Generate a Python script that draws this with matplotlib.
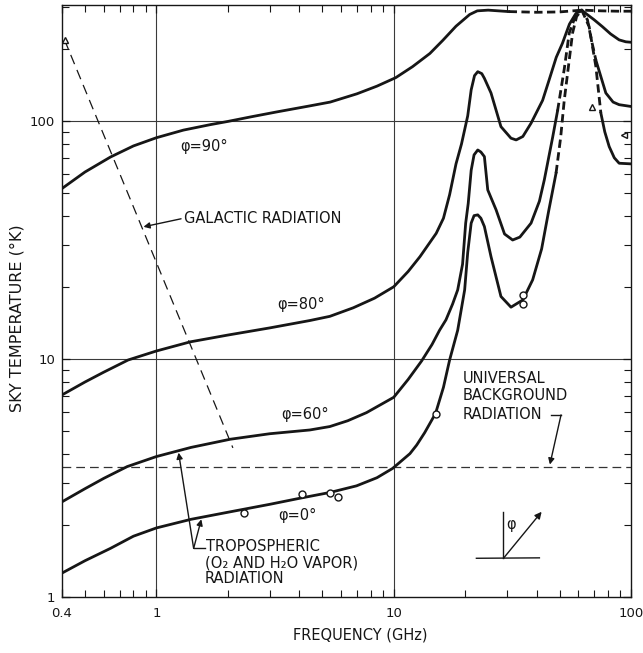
import matplotlib
matplotlib.use("Agg")
import matplotlib.pyplot as plt
from matplotlib.ticker import FixedLocator, NullFormatter

# ---- sky temperature curves (frequency in GHz, temperature in K) ----
freq_90 = [0.4, 0.5, 0.64, 0.8, 1.0, 1.3, 1.69, 2.0, 2.5, 3.2, 4.4, 5.4, 7.0, 8.5, 10.2,
           12.0, 14.2, 16.1, 18.3, 20.9, 22.5, 25.0, 30.5, 40.0, 50.0, 62.0, 75.0, 88.0, 100.0]
temp_90 = [52, 61, 70.5, 78.5, 85, 91.5, 96.5, 99.5, 104, 109, 115.5, 120, 130, 140, 152,
           169, 192, 218, 250, 280, 290, 292, 288, 286, 287, 292, 290, 289, 289]

freq_80 = [0.4, 0.5, 0.6, 0.76, 1.0, 1.39, 2.0, 3.0, 4.43, 5.38, 6.75, 8.3, 10.0, 11.5,
           12.9, 15.1, 16.2, 17.2, 18.3, 19.3, 20.5, 21.2, 21.9, 22.6, 23.5, 24.1, 25.7,
           28.3, 31.2, 32.8, 35.0, 37.9, 42.4, 45.2, 48.4, 51.4, 55.0, 58.6, 62.0, 64.4,
           69.9, 75.7, 82.0, 89.1, 95.0, 100.0]
temp_80 = [7.06, 8.0, 8.8, 9.9, 10.8, 11.8, 12.6, 13.5, 14.5, 15.1, 16.4, 18.0, 20.1, 23.3,
           26.9, 33.7, 39, 49, 66, 80, 105, 135, 155, 161, 158, 151, 131,
           94.6, 84.6, 83.2, 86, 97.8, 122, 149, 185, 212, 255, 283, 292, 283,
           266, 249, 232, 219, 215, 214]

freq_60 = [0.4, 0.5, 0.6, 0.753, 1.0, 1.4, 2.05, 3.0, 4.43, 5.38, 6.4, 7.68, 10.0, 11.5, 13.1,
           14.5, 15.6, 16.6, 17.7, 18.6, 19.5, 20.1, 20.6, 21.2, 21.8, 22.6, 23.3, 24.1,
           24.9, 27.0, 29.3, 31.7, 34.0, 37.9, 41.1, 43.1, 46.7, 49.0, 52.3, 54.9, 58.6,
           62.0, 65.5, 68.0, 71.1, 78.3, 84.0, 89.1, 100.0]
temp_60 = [2.51, 2.85, 3.15, 3.53, 3.89, 4.25, 4.6, 4.85, 5.03, 5.2, 5.5, 5.95, 6.9, 8.2, 9.8,
           11.5, 13.2, 14.6, 17, 19.5, 25, 37.2, 45, 62, 72, 75.5, 74, 70.8,
           51.3, 42.3, 33.5, 31.6, 32.5, 37.2, 46, 56.5, 85, 110, 165, 234, 280,
           292, 266, 220, 180, 131, 120, 117, 115]

freq_0 = [0.4, 0.5, 0.64, 0.8, 1.0, 1.4, 2.05, 3.0, 4.03, 5.4, 6.97, 8.5, 9.9, 11.7,
          12.5, 13.5, 15.0, 16.2, 17.2, 18.6, 19.9, 20.5, 21.2, 21.8, 22.6, 23.3, 24.1,
          25.7, 28.3, 31.2, 35.0, 38.5, 42.0, 45.0, 48.3, 50.5, 52.3, 54.5, 56.7, 59.0,
          62.0, 66.6, 71.1, 74.6, 77.5, 80.9, 85.0, 89.1, 100.0]
temp_0 = [1.26, 1.42, 1.6, 1.8, 1.95, 2.12, 2.28, 2.45, 2.6, 2.75, 2.93, 3.17, 3.47, 4.0,
          4.35, 4.9, 5.9, 7.6, 9.9, 13.2, 19.5, 28, 37.2, 40, 40.3, 39, 36,
          26.9, 18.3, 16.5, 17.7, 21.5, 29, 42, 60.3, 85, 122, 170, 234, 275,
          292, 249, 169, 108, 90, 78, 70, 66.4, 66]

# frequency span over which each curve is drawn dashed (extrapolated part)
dashed_span = {"90": (30.5, 100.0), "80": None, "60": (49.0, 71.1), "0": (48.3, 74.6)}

# galactic radiation (straight line in log-log) and universal background level
galactic_freq = [0.41, 2.1]
galactic_temp = [219, 4.23]
background_temp = 3.5

# measured points
circle_freq = [2.33, 4.09, 5.4, 5.8, 15.0, 35.0, 35.0]
circle_temp = [2.26, 2.72, 2.73, 2.64, 5.86, 17.0, 18.6]
triangle_freq = [0.41, 68.6]
triangle_temp = [219, 114]
side_tri_freq = [93.4]
side_tri_temp = [87]

x_tick_vals = [0.4, 1, 10, 100]
x_tick_labels = ["0.4", "1", "10", "100"]
y_tick_vals = [1, 10, 100]
y_tick_labels = ["1", "10", "100"]

INK = "#161616"
FONT = "DejaVu Sans"

fig = plt.figure(figsize=(6.43, 6.53), dpi=100)
ax = fig.add_axes([0.0964, 0.0858, 0.885, 0.9066])
ax.set_xscale("log")
ax.set_yscale("log")
ax.set_xlim(0.4, 100)
ax.set_ylim(1, 307)

# decade grid
for gx in (1, 10):
    ax.axvline(gx, color="#3a3a3a", lw=0.8, zorder=1)
for gy in (10, 100):
    ax.axhline(gy, color="#3a3a3a", lw=0.8, zorder=1)


def draw_curve(fx, ty, span):
    if span is None:
        ax.plot(fx, ty, color=INK, lw=2.0, solid_capstyle="round",
                solid_joinstyle="round", zorder=3)
        return
    lo, hi = span
    left = [(f, t) for f, t in zip(fx, ty) if f <= lo]
    mid = [(f, t) for f, t in zip(fx, ty) if lo <= f <= hi]
    right = [(f, t) for f, t in zip(fx, ty) if f >= hi]
    for seg, ls in ((left, "-"), (mid, (0, (3.0, 1.6))), (right, "-")):
        if len(seg) > 1:
            ax.plot([p[0] for p in seg], [p[1] for p in seg], color=INK, lw=2.0,
                    linestyle=ls, solid_joinstyle="round", zorder=3)


draw_curve(freq_90, temp_90, dashed_span["90"])
draw_curve(freq_80, temp_80, dashed_span["80"])
draw_curve(freq_60, temp_60, dashed_span["60"])
draw_curve(freq_0, temp_0, dashed_span["0"])

ax.plot(galactic_freq, galactic_temp, color=INK, lw=0.9, linestyle=(0, (8, 5)), zorder=2)
ax.axhline(background_temp, color="#333333", lw=0.9, linestyle=(0, (7, 4)), zorder=2)

ax.plot(circle_freq, circle_temp, linestyle="none", marker="o", ms=5,
        mfc="white", mec=INK, mew=1.0, zorder=4)
ax.plot(triangle_freq, triangle_temp, linestyle="none", marker="^", ms=5,
        mfc="white", mec=INK, mew=1.0, zorder=4)
ax.plot(side_tri_freq, side_tri_temp, linestyle="none", marker="<", ms=5,
        mfc="white", mec=INK, mew=1.0, zorder=4)

# curve labels
txt = dict(color=INK, fontsize=10.5, family=FONT, zorder=5)
ax.text(1.58, 77.8, "\u03c6=90\u00b0", ha="center", va="center", **txt)
ax.text(4.07, 16.9, "\u03c6=80\u00b0", ha="center", va="center", **txt)
ax.text(4.23, 5.82, "\u03c6=60\u00b0", ha="center", va="center", **txt)
ax.text(3.91, 2.19, "\u03c6=0\u00b0", ha="center", va="center", **txt)

# galactic radiation callout
ax.text(1.31, 38.8, "GALACTIC RADIATION", ha="left", va="center", **txt)
ax.annotate("", xy=(0.882, 35.9), xytext=(1.27, 38.8),
            arrowprops=dict(arrowstyle="-|>", color=INK, lw=1.0,
                            mutation_scale=9, shrinkA=0, shrinkB=0))

# tropospheric callout
ax.text(1.62, 1.627, "TROPOSPHERIC", ha="left", va="center", **txt)
ax.text(1.60, 1.385, "(O\u2082 AND H\u2082O VAPOR)", ha="left", va="center", **txt)
ax.text(1.60, 1.198, "RADIATION", ha="left", va="center", **txt)
ax.plot([1.435, 1.60], [1.60, 1.60], color=INK, lw=1.0, zorder=4)
for tip in ((1.24, 4.04), (1.546, 2.12)):
    ax.annotate("", xy=tip, xytext=(1.435, 1.60),
                arrowprops=dict(arrowstyle="-|>", color=INK, lw=1.0,
                                mutation_scale=9, shrinkA=0, shrinkB=0))

# universal background callout
ax.text(19.5, 8.3, "UNIVERSAL", ha="left", va="center", **txt)
ax.text(19.5, 6.99, "BACKGROUND", ha="left", va="center", **txt)
ax.text(19.5, 5.82, "RADIATION", ha="left", va="center", **txt)
ax.plot([46.0, 50.7], [5.82, 5.82], color=INK, lw=1.0, zorder=4)
ax.annotate("", xy=(45.5, 3.6), xytext=(50.7, 5.82),
            arrowprops=dict(arrowstyle="-|>", color=INK, lw=1.0,
                            mutation_scale=9, shrinkA=0, shrinkB=0))

# elevation-angle sketch
ax.plot([22.3, 41.1], [1.454, 1.46], color=INK, lw=1.0, zorder=4)
ax.plot([29.0, 29.0], [1.454, 2.28], color=INK, lw=1.0, zorder=4)
ax.annotate("", xy=(42.0, 2.28), xytext=(29.0, 1.454),
            arrowprops=dict(arrowstyle="-|>", color=INK, lw=1.0,
                            mutation_scale=10, shrinkA=0, shrinkB=0))
ax.text(31.2, 2.01, "\u03c6", ha="center", va="center", **txt)

# axes, ticks and labels
ax.xaxis.set_major_locator(FixedLocator(x_tick_vals))
ax.set_xticklabels(x_tick_labels)
ax.yaxis.set_major_locator(FixedLocator(y_tick_vals))
ax.set_yticklabels(y_tick_labels)
x_minor = [v * d for d in (0.1, 1, 10) for v in range(2, 10) if 0.4 < v * d < 100]
y_minor = [v * d for d in (1, 10, 100) for v in range(2, 10) if v * d < 307]
ax.xaxis.set_minor_locator(FixedLocator(x_minor))
ax.yaxis.set_minor_locator(FixedLocator(y_minor))
ax.xaxis.set_minor_formatter(NullFormatter())
ax.yaxis.set_minor_formatter(NullFormatter())
ax.tick_params(which="both", direction="in", top=True, right=True, color=INK,
               labelcolor=INK, labelsize=9.5)
ax.tick_params(which="major", length=6, width=0.9)
ax.tick_params(which="minor", length=5, width=0.8)
ax.tick_params(axis="x", which="major", pad=7)
ax.tick_params(axis="y", which="major", pad=5)
for lab in ax.get_xticklabels() + ax.get_yticklabels():
    lab.set_family(FONT)
for sp in ax.spines.values():
    sp.set_color(INK)
    sp.set_linewidth(1.0)

ax.set_xlabel("FREQUENCY (GHz)", fontsize=10.5, family=FONT, color=INK)
ax.set_ylabel("SKY TEMPERATURE (\u00b0K)", fontsize=11.5, family=FONT, color=INK)
ax.xaxis.set_label_coords(0.525, -0.051)
ax.yaxis.set_label_coords(-0.066, 0.471)

fig.savefig("out.png", dpi=100, facecolor="white")
